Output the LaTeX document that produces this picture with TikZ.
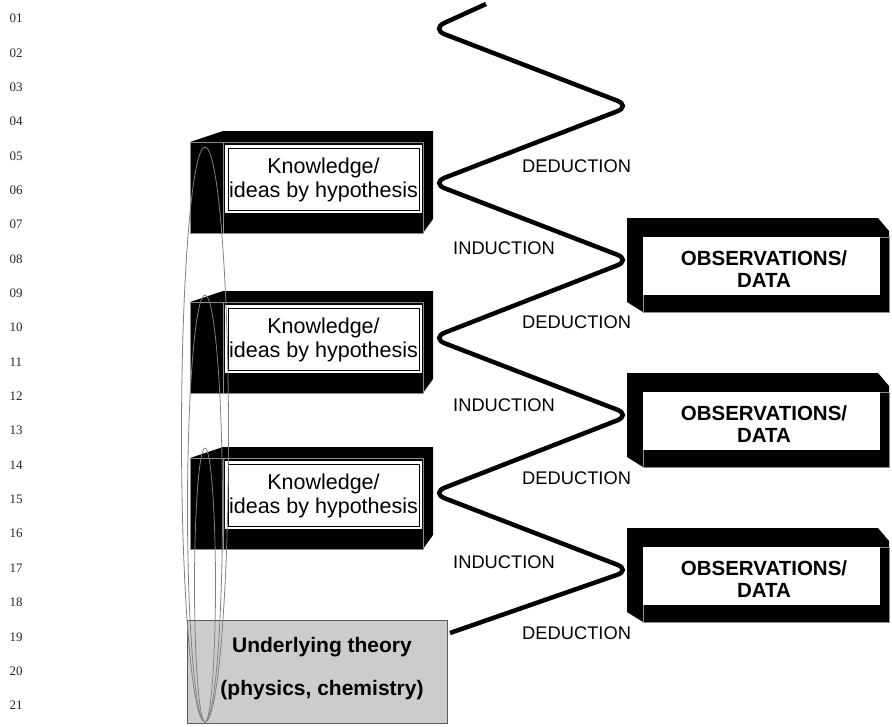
\documentclass[tikz,border=0pt]{standalone}
\usepackage{fontspec}
\setmainfont{Liberation Sans}
\newfontfamily\numfont{Liberation Serif}
\begin{document}
\begin{tikzpicture}[x=1pt,y=-1pt,
  edgegrey/.style={draw=black!45, line width=0.8pt},
  loopline/.style={draw=black!50, line width=0.8pt},
  lbl/.style={font=\fontsize{18.3}{20}\selectfont, anchor=base west, inner sep=0pt},
  ktext/.style={font=\fontsize{21.5}{24}\selectfont, anchor=base, inner sep=0pt},
  otext/.style={font=\fontsize{20.5}{23}\selectfont\bfseries, anchor=base, inner sep=0pt},
  ttext/.style={font=\fontsize{21}{23}\selectfont\bfseries, anchor=base, inner sep=0pt},
  lineno/.style={font=\numfont\fontsize{13}{14}\selectfont, text=black!85, anchor=west, inner sep=0pt},
  whitepanel/.style={fill=white, draw=none, inner sep=0pt, anchor=north west},
  wave/.style={draw=black, line width=4.5pt, rounded corners=15pt},
]
\useasboundingbox (0,0) rectangle (892,726);

% margin line numbers
\foreach \t [count=\i] in {01,02,03,04,05,06,07,08,09,10,11,12,13,14,15,16,17,18,19,20,21}
  \node[lineno] (num\i) at (9.5,{18.5+(\i-1)*34.35}) {\t};

% hypothesis boxes (black blocks with framed white panel)
\foreach \T/\k in {131/1,291/2,447/3}{
  \fill[black] (190,\T+11) -- (223,\T) -- (433,\T) -- (433,\T+88) -- (423,\T+102) -- (190,\T+102) -- cycle;
  \draw[edgegrey] (190,\T+11) rectangle (423,\T+102);
  \draw[edgegrey] (223,\T+11) -- (223,\T+102);
  \node[whitepanel, minimum width=197pt, minimum height=68pt] (k\k) at (225,\T+14) {};
  \draw[black, line width=0.9pt] ([shift={(3,3)}]k\k.north west) rectangle ([shift={(-3,-3)}]k\k.south east);
  \node[ktext] (ka\k) at (323.5,\T+42) {Knowledge/};
  \node[ktext] (kb\k) at (323.5,\T+66) {ideas by hypothesis};
}

% observation boxes
\foreach \T/\k in {218/1,373/2,528/3}{
  \fill[black] (627,\T) -- (878,\T) -- (889,\T+13) -- (889,\T+94) -- (643,\T+94) -- (627,\T+84) -- cycle;
  \draw[edgegrey] (643,\T+19) rectangle (889,\T+94);
  \node[whitepanel, minimum width=237pt, minimum height=58pt] (o\k) at (643,\T+19) {};
  \node[otext] (oa\k) at (764,\T+47.3) {OBSERVATIONS/};
  \node[otext] (ob\k) at (764,\T+69.3) {DATA};
}

% underlying theory box
\node[draw=black!65, fill=black!20, line width=0.8pt, minimum width=260pt, minimum height=103pt,
      inner sep=0pt, anchor=north west] (theory) at (187,620) {};
\node[ttext] (ta) at (322,652) {Underlying theory};
\node[ttext] (tb) at (322,695.5) {(physics, chemistry)};

% nested loops rising from the theory
\draw[loopline] (205,434.5) ellipse [x radius=23.5pt, y radius=287.5pt];
\draw[loopline] (205,508.5) ellipse [x radius=17.5pt, y radius=213.5pt];
\draw[loopline] (205,585) ellipse [x radius=10.5pt, y radius=137pt];

% zig-zag path between hypotheses and observations
\coordinate (w0) at (486,4);
\coordinate (l1) at (431,29);
\coordinate (r1) at (631,106);
\coordinate (l2) at (431,183);
\coordinate (r2) at (631,260);
\coordinate (l3) at (431,338);
\coordinate (r3) at (631,415);
\coordinate (l4) at (431,493);
\coordinate (r4) at (631,570);
\coordinate (w9) at (450,633);
\draw[wave] (w0) -- (l1) -- (r1) -- (l2) -- (r2) -- (l3) -- (r3) -- (l4) -- (r4) -- (w9);

% step labels
\node[lbl] (d1) at (522,172.5) {DEDUCTION};
\node[lbl] (d2) at (522,328.5) {DEDUCTION};
\node[lbl] (d3) at (522,484.5) {DEDUCTION};
\node[lbl] (d4) at (522,639.5) {DEDUCTION};
\node[lbl] (i1) at (453,254) {INDUCTION};
\node[lbl] (i2) at (453,411) {INDUCTION};
\node[lbl] (i3) at (453,568) {INDUCTION};
\end{tikzpicture}
\end{document}
